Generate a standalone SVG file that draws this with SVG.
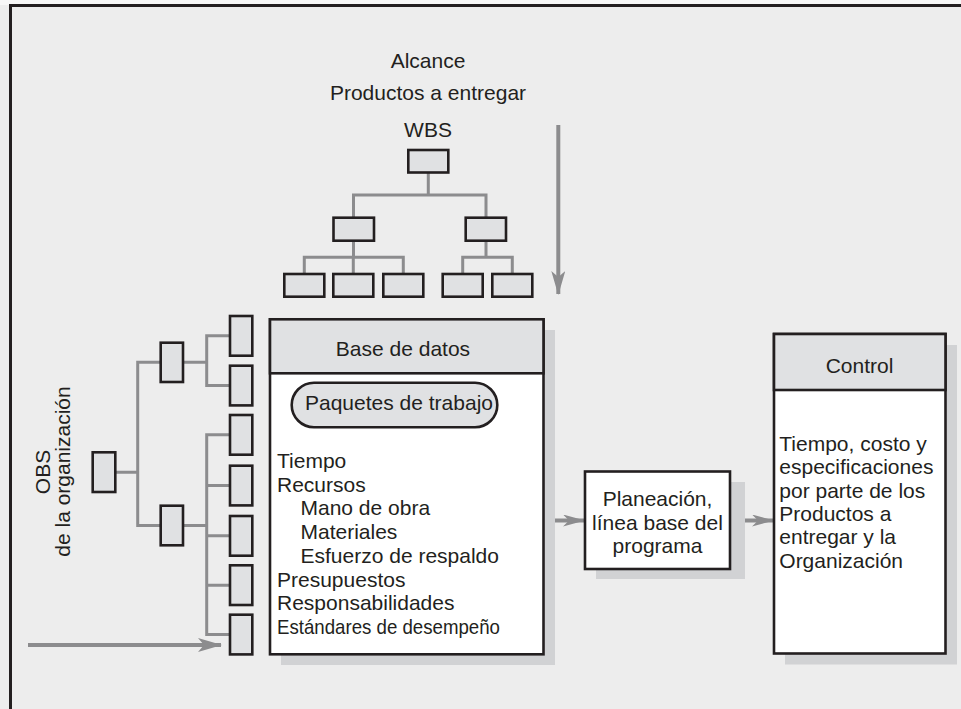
<svg xmlns="http://www.w3.org/2000/svg" width="961" height="709" viewBox="0 0 961 709">
<defs>
<style>
text{font-family:"Liberation Sans",Arial,Helvetica,sans-serif;font-size:21px;fill:#231f20}
.c{text-anchor:middle}
.box{fill:#e0e1e3;stroke:#231f20;stroke-width:2.6}
.body{fill:#ffffff;stroke:#231f20;stroke-width:2.6}
.hdr{fill:#e0e1e3;stroke:#231f20;stroke-width:2.6}
.sh{fill:#d1d2d4}
.ln{fill:none;stroke:#8c8c8e;stroke-width:3}
.ar{fill:none;stroke:#8c8c8e;stroke-width:4}
</style>
<marker id="ah" markerUnits="userSpaceOnUse" viewBox="0 0 24 14" markerWidth="24" markerHeight="14" refX="23" refY="7" orient="auto">
<path d="M0,0 L24,7 L0,14 L6,7 Z" fill="#8c8c8e"/>
</marker>
<marker id="ahs" markerUnits="userSpaceOnUse" viewBox="0 0 22 12" markerWidth="22" markerHeight="12" refX="21" refY="6" orient="auto">
<path d="M0,0 L22,6 L0,12 L6,6 Z" fill="#8c8c8e"/>
</marker>
</defs>
<rect x="0" y="0" width="961" height="709" fill="#ededed"/>
<rect x="0" y="0" width="961" height="5" fill="#f7f7f7"/>
<path d="M10.5,709 V5.5 H961" fill="none" stroke="#231f20" stroke-width="3"/>

<g id="titles">
<text class="c" x="428" y="68">Alcance</text>
<text class="c" x="428" y="100">Productos a entregar</text>
<text class="c" x="428" y="137">WBS</text>
</g>

<g id="connectors">
<!-- WBS tree -->
<path class="ln" d="M428.3,172.5 V195 M353.5,217.5 V195 H486 V217.5"/>
<path class="ln" d="M353.5,240.5 V257.3 M304.3,274 V257.3 H403.3 V274 M353.3,257.3 V274"/>
<path class="ln" d="M486,240.5 V257.3 M462.7,274 V257.3 H512.3 V274"/>
<!-- OBS tree -->
<path class="ln" d="M115.3,472.3 H137.7 M160.7,362.3 H137.7 V525.5 H160.7"/>
<path class="ln" d="M183,362.3 H206.7 M230,335.8 H206.7 V385.5 H230"/>
<path class="ln" d="M183,525.5 H206.7 M230,434.8 H206.7 V634.5 H230 M206.7,485.5 H230 M206.7,535.8 H230 M206.7,585.2 H230"/>
<!-- arrows -->
<path class="ar" d="M558.3,125 V294" marker-end="url(#ah)"/>
<path class="ar" d="M28,645 H221" marker-end="url(#ah)"/>
<path class="ar" d="M543,520.5 H584" marker-end="url(#ahs)"/>
<path class="ar" d="M730,520.5 H773" marker-end="url(#ahs)"/>
</g>

<g id="wbs-root"><rect class="box" x="408.3" y="150" width="40" height="22.5"/></g>
<g id="wbs-l2a"><rect class="box" x="333.5" y="217.7" width="40.5" height="23"/></g>
<g id="wbs-l2b"><rect class="box" x="465.7" y="217.7" width="40.3" height="23"/></g>
<g id="wbs-l3a"><rect class="box" x="284.3" y="274" width="40" height="22.7"/></g>
<g id="wbs-l3b"><rect class="box" x="333.3" y="274" width="40" height="22.7"/></g>
<g id="wbs-l3c"><rect class="box" x="383.3" y="274" width="40" height="22.7"/></g>
<g id="wbs-l3d"><rect class="box" x="442.7" y="274" width="40" height="22.7"/></g>
<g id="wbs-l3e"><rect class="box" x="492.3" y="274" width="40" height="22.7"/></g>

<g id="obs-label">
<text class="c" transform="translate(50,472) rotate(-90)">OBS</text>
<text class="c" transform="translate(70,471.5) rotate(-90)">de la organización</text>
</g>
<g id="obs-root"><rect class="box" x="92.7" y="452.3" width="22.6" height="39.7"/></g>
<g id="obs-l2a"><rect class="box" x="160.7" y="342.7" width="22.3" height="39.3"/></g>
<g id="obs-l2b"><rect class="box" x="160.7" y="505.7" width="22.3" height="39.6"/></g>
<g id="obs-l3a"><rect class="box" x="230" y="316" width="22.3" height="39.7"/></g>
<g id="obs-l3b"><rect class="box" x="230" y="365.7" width="22.3" height="39.7"/></g>
<g id="obs-l3c"><rect class="box" x="230" y="415" width="22.3" height="39.7"/></g>
<g id="obs-l3d"><rect class="box" x="230" y="465.7" width="22.3" height="39.7"/></g>
<g id="obs-l3e"><rect class="box" x="230" y="516" width="22.3" height="39.7"/></g>
<g id="obs-l3f"><rect class="box" x="230" y="565.3" width="22.3" height="39.7"/></g>
<g id="obs-l3g"><rect class="box" x="230" y="614.7" width="22.3" height="39.7"/></g>

<g id="base-de-datos">
<rect class="sh" x="281" y="330" width="274" height="335"/>
<rect class="body" x="270" y="319.3" width="273.5" height="335"/>
<rect class="hdr" x="270" y="319.3" width="273.5" height="54"/>
<text class="c" x="403" y="356">Base de datos</text>
<rect class="box" x="291.7" y="382.7" width="205.6" height="44.6" rx="22.3" ry="22.3"/>
<text class="c" x="399" y="410">Paquetes de trabajo</text>
<text x="277" y="468">Tiempo</text>
<text x="277" y="491.7">Recursos</text>
<text x="300.5" y="515.3">Mano de obra</text>
<text x="300.5" y="539">Materiales</text>
<text x="300.5" y="562.7">Esfuerzo de respaldo</text>
<text x="277" y="586.5">Presupuestos</text>
<text x="277" y="610">Responsabilidades</text>
<text x="277" y="634" textLength="223" lengthAdjust="spacingAndGlyphs">Estándares de desempeño</text>
</g>

<g id="planeacion">
<rect class="sh" x="596" y="482" width="149" height="97"/>
<rect class="body" x="585" y="471.5" width="145" height="97.5"/>
<text class="c" x="657.5" y="505.7">Planeación,</text>
<text class="c" x="657.5" y="529.5">línea base del</text>
<text class="c" x="657.5" y="553.3">programa</text>
</g>

<g id="control">
<rect class="sh" x="785" y="345" width="172" height="319.5"/>
<rect class="body" x="774" y="334" width="171.5" height="319.5"/>
<rect class="hdr" x="774" y="334" width="171.5" height="56"/>
<text class="c" x="859.5" y="372.7">Control</text>
<text x="779.3" y="451">Tiempo, costo y</text>
<text x="779.3" y="474.3">especificaciones</text>
<text x="779.3" y="497.7">por parte de los</text>
<text x="779.3" y="521">Productos a</text>
<text x="779.3" y="544.3">entregar y la</text>
<text x="779.3" y="567.5">Organización</text>
</g>
</svg>
